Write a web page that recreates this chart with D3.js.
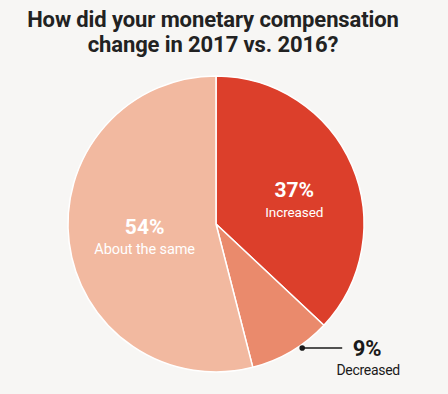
<!DOCTYPE html>
<html>
<head>
<meta charset="utf-8">
<script src="https://cdn.jsdelivr.net/npm/d3@7"></script>
<style>
  body { margin: 0; background: #f7f6f4; }
  svg { display: block; }
</style>
</head>
<body>
<svg id="chart" width="448" height="394"></svg>
<script>
let titleLines = ["How did your monetary compensation", "change in 2017 vs. 2016?"];
let categories = ["Increased", "Decreased", "About the same"];
let values = [37, 9, 54];
let colors = ["#dc3f2b", "#ea8a6c", "#f2b9a0"];

let svg = d3.select("#chart");
let width = 448, height = 394;
let cx = 216, cy = 224, radius = 148;

svg.append("rect").attr("width", width).attr("height", height).attr("fill", "#f7f6f4");

// title
svg.selectAll("text.title")
  .data(titleLines)
  .enter()
  .append("text")
  .attr("class", "title")
  .attr("x", 213)
  .attr("y", (d, i) => 27 + i * 25)
  .attr("text-anchor", "middle")
  .attr("font-family", "Roboto, sans-serif")
  .attr("font-weight", "bold")
  .attr("font-size", 22)
  .attr("letter-spacing", -0.1)
  .attr("fill", "#222")
  .text(d => d);

let data = categories.map((c, i) => ({ name: c, value: values[i], color: colors[i] }));

let pie = d3.pie().sort(null).value(d => d.value);
let arc = d3.arc().innerRadius(0).outerRadius(radius);
let arcs = pie(data);

let g = svg.append("g").attr("transform", "translate(" + cx + "," + cy + ")");

g.selectAll("path")
  .data(arcs)
  .enter()
  .append("path")
  .attr("d", arc)
  .attr("fill", d => d.data.color)
  .attr("stroke", "#fff")
  .attr("stroke-width", 1.5)
  .attr("stroke-linejoin", "round");

// inside labels
let labelArc = d3.arc().innerRadius(82).outerRadius(82);
let inside = arcs.filter(d => d.data.name != "Decreased");
let insideOffsets = { "Increased": [3, 15], "About the same": [10, 9] };

let lab = g.selectAll("g.lab")
  .data(inside)
  .enter()
  .append("g")
  .attr("class", "lab")
  .attr("transform", d => {
    let c = labelArc.centroid(d);
    let o = insideOffsets[d.data.name];
    return "translate(" + (c[0] + o[0]) + "," + (c[1] + o[1]) + ")";
  });

lab.append("text")
  .attr("text-anchor", "middle")
  .attr("y", -9)
  .attr("font-family", "Roboto, sans-serif")
  .attr("font-weight", "bold")
  .attr("font-size", 21)
  .attr("fill", "#fff")
  .text(d => d.data.value + "%");

lab.append("text")
  .attr("text-anchor", "middle")
  .attr("y", 11)
  .attr("font-family", "Roboto, sans-serif")
  .attr("font-size", d => d.data.name == "Increased" ? 13.5 : 14.5)
  .attr("letter-spacing", -0.1)
  .attr("fill", "#fff")
  .text(d => d.data.name);

// outside label for the small slice
let dec = arcs.find(d => d.data.name == "Decreased");
let ang = dec.startAngle + 0.37 * (dec.endAngle - dec.startAngle);
let px = Math.sin(ang) * (radius + 3), py = -Math.cos(ang) * (radius + 3);

g.append("circle")
  .attr("cx", px).attr("cy", py).attr("r", 2.8)
  .attr("fill", "#1a1a1a");

g.append("line")
  .attr("x1", px).attr("y1", py)
  .attr("x2", px + 40).attr("y2", py)
  .attr("stroke", "#1a1a1a")
  .attr("stroke-width", 1.3);

g.append("text")
  .attr("x", px + 65).attr("y", py + 8)
  .attr("text-anchor", "middle")
  .attr("font-family", "Roboto, sans-serif")
  .attr("font-weight", "bold")
  .attr("font-size", 22)
  .attr("fill", "#1a1a1a")
  .text(dec.data.value + "%");

g.append("text")
  .attr("x", px + 66).attr("y", py + 27)
  .attr("text-anchor", "middle")
  .attr("font-family", "Roboto, sans-serif")
  .attr("font-size", 14)
  .attr("letter-spacing", -0.3)
  .attr("fill", "#1a1a1a")
  .text(dec.data.name);
</script>
</body>
</html>
